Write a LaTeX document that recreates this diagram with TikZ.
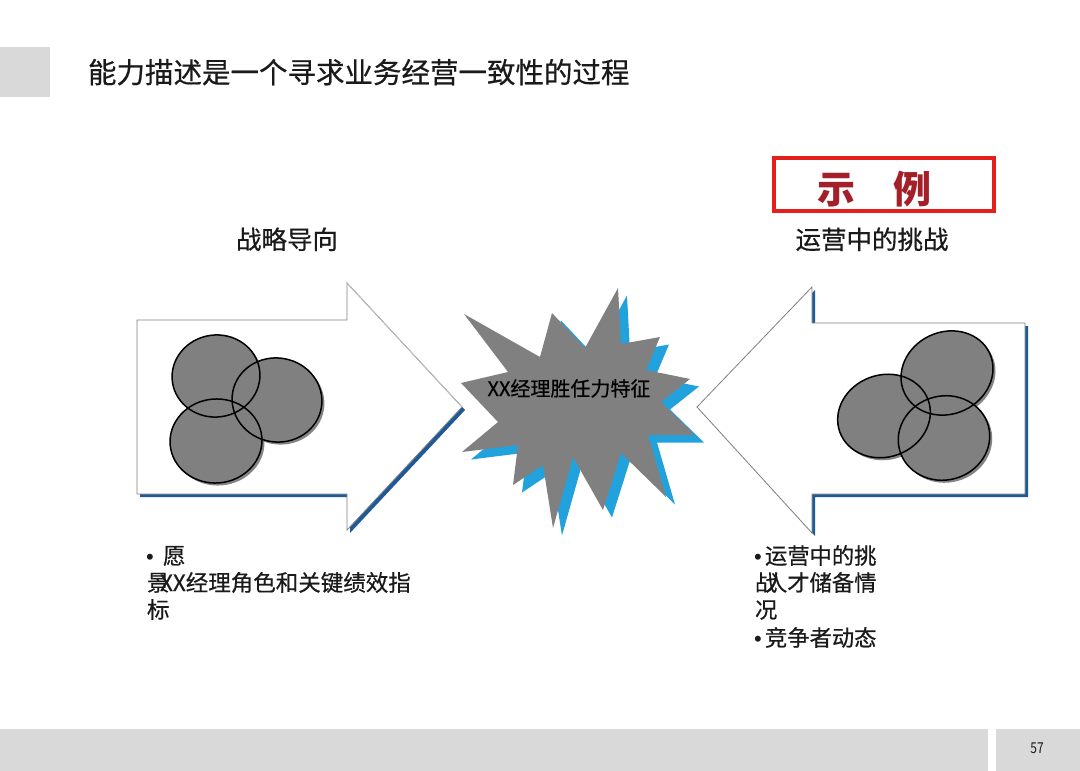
\documentclass[tikz,border=0pt]{standalone}
\usepackage{fontspec}
\setmainfont{Noto Sans CJK SC}
\newfontfamily\cjkm{Noto Sans CJK SC}[FakeBold=0.5]
\newfontfamily\bul{Liberation Sans}
\definecolor{shadowblue}{HTML}{1F5A96}
\definecolor{starblue}{HTML}{22A2DD}
\definecolor{midgray}{HTML}{808080}
\definecolor{footgray}{HTML}{D9D9D9}
\definecolor{boxred}{HTML}{E3201B}
\definecolor{textred}{HTML}{A3202A}
\definecolor{txt}{HTML}{1A1A1A}
\tikzset{
  txtnode/.style={inner sep=0pt, outer sep=0pt, text=txt},
  vennfill/.style={fill=midgray},
  vennline/.style={draw=black, line width=1.5pt},
  vennshadow/.style={fill=black!60, opacity=0.8},
  arrowbody/.style={fill=white, draw=midgray, line width=0.8pt, line join=miter},
  arrowshadow/.style={fill=shadowblue},
}
\begin{document}
\begin{tikzpicture}[x=1pt,y=-1pt]
\useasboundingbox (0,0) rectangle (1080,771);
\fill[white] (0,0) rectangle (1080,771);

% header square and title
\fill[footgray] (0,47) rectangle (50,97);
\node[txtnode, anchor=base west, font=\cjkm\fontsize{28.5}{32}\selectfont] (title) at (88,83) {能力描述是一个寻求业务经营一致性的过程};

% example box
\draw[boxred, line width=3.5pt] (774,158) rectangle (994,211);
\node[txtnode, anchor=base, text=textred, font=\fontsize{38}{44}\selectfont\bfseries] (example) at (874,203) {示\hspace{1em}例};

% headings
\node[txtnode, anchor=base, font=\cjkm\fontsize{25.5}{28}\selectfont] (leftHead) at (287,249) {战略导向};
\node[txtnode, anchor=base, font=\cjkm\fontsize{25.5}{28}\selectfont] (rightHead) at (872,249) {运营中的挑战};

% left arrow
\begin{scope}[shift={(3,3)}]
\fill[arrowshadow] (137,320) -- (347,320) -- (347,283) -- (462,407) -- (347,530) -- (347,494) -- (137,494) -- cycle;
\end{scope}
\draw[arrowbody] (137,320) -- (347,320) -- (347,283) -- (462,407) -- (347,530) -- (347,494) -- (137,494) -- cycle;
\draw[white!75!black, line width=0.8pt] (347,283) -- (462,407);

% right arrow
\begin{scope}[shift={(3,3)}]
\fill[arrowshadow] (1025,323) -- (812,323) -- (812,287) -- (697,407) -- (812,533) -- (812,494) -- (1025,494) -- cycle;
\end{scope}
\draw[arrowbody] (1025,323) -- (812,323) -- (812,287) -- (697,407) -- (812,533) -- (812,494) -- (1025,494) -- cycle;

% left venn
\begin{scope}[shift={(2.5,2.5)}]
\fill[vennshadow] (216,376) ellipse [x radius=44, y radius=41, rotate=8];
\fill[vennshadow] (277,400) ellipse [x radius=45, y radius=42, rotate=-10];
\fill[vennshadow] (216,441) ellipse [x radius=46, y radius=42, rotate=5];
\end{scope}
\fill[vennfill] (216,376) ellipse [x radius=44, y radius=41, rotate=8];
\fill[vennfill] (277,400) ellipse [x radius=45, y radius=42, rotate=-10];
\fill[vennfill] (216,441) ellipse [x radius=46, y radius=42, rotate=5];
\draw[vennline] (216,376) ellipse [x radius=44, y radius=41, rotate=8];
\draw[vennline] (277,400) ellipse [x radius=45, y radius=42, rotate=-10];
\draw[vennline] (216,441) ellipse [x radius=46, y radius=42, rotate=5];

% right venn
\begin{scope}[shift={(2.5,2.5)}]
\fill[vennshadow] (947,373) ellipse [x radius=47, y radius=41, rotate=25];
\fill[vennshadow] (884,416) ellipse [x radius=47, y radius=41, rotate=20];
\fill[vennshadow] (944,438) ellipse [x radius=46, y radius=42, rotate=15];
\end{scope}
\fill[vennfill] (947,373) ellipse [x radius=47, y radius=41, rotate=25];
\fill[vennfill] (884,416) ellipse [x radius=47, y radius=41, rotate=20];
\fill[vennfill] (944,438) ellipse [x radius=46, y radius=42, rotate=15];
\draw[vennline] (947,373) ellipse [x radius=47, y radius=41, rotate=25];
\draw[vennline] (884,416) ellipse [x radius=47, y radius=41, rotate=20];
\draw[vennline] (944,438) ellipse [x radius=46, y radius=42, rotate=15];

% star
\begin{scope}[shift={(9,7.5)}]
\fill[starblue] (618,288) -- (621,344) -- (660,337) -- (646,370) -- (690,379) -- (661,402) -- (695,435) -- (648,435) -- (666,497) -- (621,453) -- (603,510) -- (573,457) -- (553,528) -- (543,465) -- (513,485) -- (518,445) -- (462,452) -- (498,422) -- (461,383) -- (508,372) -- (464,314) -- (540,357) -- (552,313) -- (585,348) -- cycle;
\end{scope}
\fill[midgray] (618,288) -- (621,344) -- (660,337) -- (646,370) -- (690,379) -- (661,402) -- (695,435) -- (648,435) -- (666,497) -- (621,453) -- (603,510) -- (573,457) -- (553,528) -- (543,465) -- (513,485) -- (518,445) -- (462,452) -- (498,422) -- (461,383) -- (508,372) -- (464,314) -- (540,357) -- (552,313) -- (585,348) -- cycle;
\node[txtnode, anchor=base, text=black, font=\cjkm\fontsize{20}{24}\selectfont] (starText) at (569,396) {XX经理胜任力特征};

% left bullet text
\begin{scope}[every node/.style={txtnode, anchor=base west, font=\cjkm\fontsize{22.5}{27}\selectfont}]
\node[font=\bul\fontsize{22}{27}\selectfont] (lb1) at (146,564) {•};
\node (lt1) at (163,564) {愿};
\node (lt2a) at (147,591) {景};
\node (lt2b) at (160,591) {XX经理角色和关键绩效指};
\node (lt3) at (147,618) {标};
\end{scope}

% right bullet text
\begin{scope}[every node/.style={txtnode, anchor=base west, font=\cjkm\fontsize{22.3}{27}\selectfont}]
\node[font=\bul\fontsize{22}{27}\selectfont] (rb1) at (754,564) {•};
\node (rt1) at (765,564) {运营中的挑};
\node (rt2a) at (755,591) {战};
\node (rt2b) at (765,591) {人才储备情};
\node (rt3) at (755,618) {况};
\node[font=\bul\fontsize{22}{27}\selectfont] (rb4) at (754,646) {•};
\node (rt4) at (765,646) {竞争者动态};
\end{scope}

% footer
\fill[footgray] (0,729) rectangle (988,771);
\fill[footgray] (996,729) rectangle (1080,771);
\node[txtnode, anchor=base, font=\fontsize{15}{18}\selectfont] (pageNum) at (1037,753) {\scalebox{0.8}[1]{57}};
\end{tikzpicture}
\end{document}
